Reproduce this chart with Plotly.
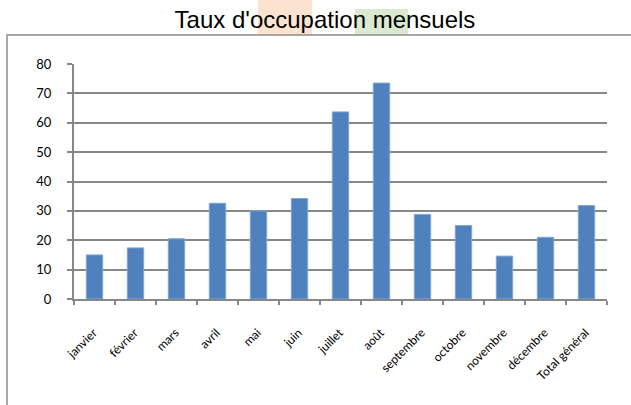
import plotly.graph_objects as go

categories = ["janvier", "février", "mars", "avril", "mai", "juin", "juillet",
              "août", "septembre", "octobre", "novembre", "décembre", "Total général"]
values = [15.0, 17.4, 20.5, 32.6, 30.0, 34.2, 63.7, 73.5, 28.8, 25.0, 14.6, 21.0, 31.8]
y_ticks = [0, 10, 20, 30, 40, 50, 60, 70, 80]

W, H = 631, 405
L, R, T, B = 74, 24, 64, 106
pw, ph = W - L - R, H - T - B

def px(x):
    return (x - L) / pw

def py(y):
    return (H - B - y) / ph

fig = go.Figure()
fig.add_trace(go.Bar(
    x=categories, y=values,
    marker=dict(color="#4F81BD", line=dict(color="#7FA6DA", width=1)),
    width=0.4,
))

grid = "#878787"
fig.update_layout(
    template="none",
    width=W, height=H,
    margin=dict(l=L, r=R, t=T, b=B, autoexpand=False),
    paper_bgcolor="white", plot_bgcolor="white",
    showlegend=False,
    title=dict(text="Taux d'occupation mensuels",
               font=dict(family="Liberation Sans, Arial", size=24, color="#000"),
               xref="container", x=325 / W, xanchor="center",
               yref="container", y=1 - 20 / H, yanchor="middle"),
    xaxis=dict(automargin=False, showline=True, linecolor=grid, linewidth=2,
               ticks="outside", tickson="boundaries", ticklen=4, tickcolor=grid, tickwidth=2,
               tickangle=-45, ticklabelstandoff=20, ticklabelshift=-1,
               tickfont=dict(family="Lato, Open Sans", size=12, color="#000"),
               showgrid=False),
    yaxis=dict(automargin=False, range=[0, 80], tickvals=y_ticks, showline=True,
               linecolor=grid, linewidth=2,
               gridcolor=grid, gridwidth=2, ticks="outside", ticklen=5, tickcolor=grid, tickwidth=2,
               ticklabelstandoff=13, zeroline=False,
               tickfont=dict(family="Lato, Open Sans", size=13, color="#000")),
    shapes=[
        dict(type="rect", xref="paper", yref="paper", layer="below",
             x0=px(258), x1=px(312), y0=py(35), y1=py(0),
             fillcolor="#FCE3CF", line=dict(width=0)),
        dict(type="rect", xref="paper", yref="paper", layer="below",
             x0=px(355), x1=px(408), y0=py(35), y1=py(9),
             fillcolor="#DAE9CF", line=dict(width=0)),
        dict(type="rect", xref="paper", yref="paper", layer="above",
             x0=px(7), x1=px(660), y0=py(440), y1=py(35),
             fillcolor="rgba(0,0,0,0)", line=dict(color="#8A8A8A", width=1.5)),
    ],
)

fig.write_html("out.html", config={"displayModeBar": False},
               post_script="document.body.style.margin='0';document.body.style.overflow='hidden';")
